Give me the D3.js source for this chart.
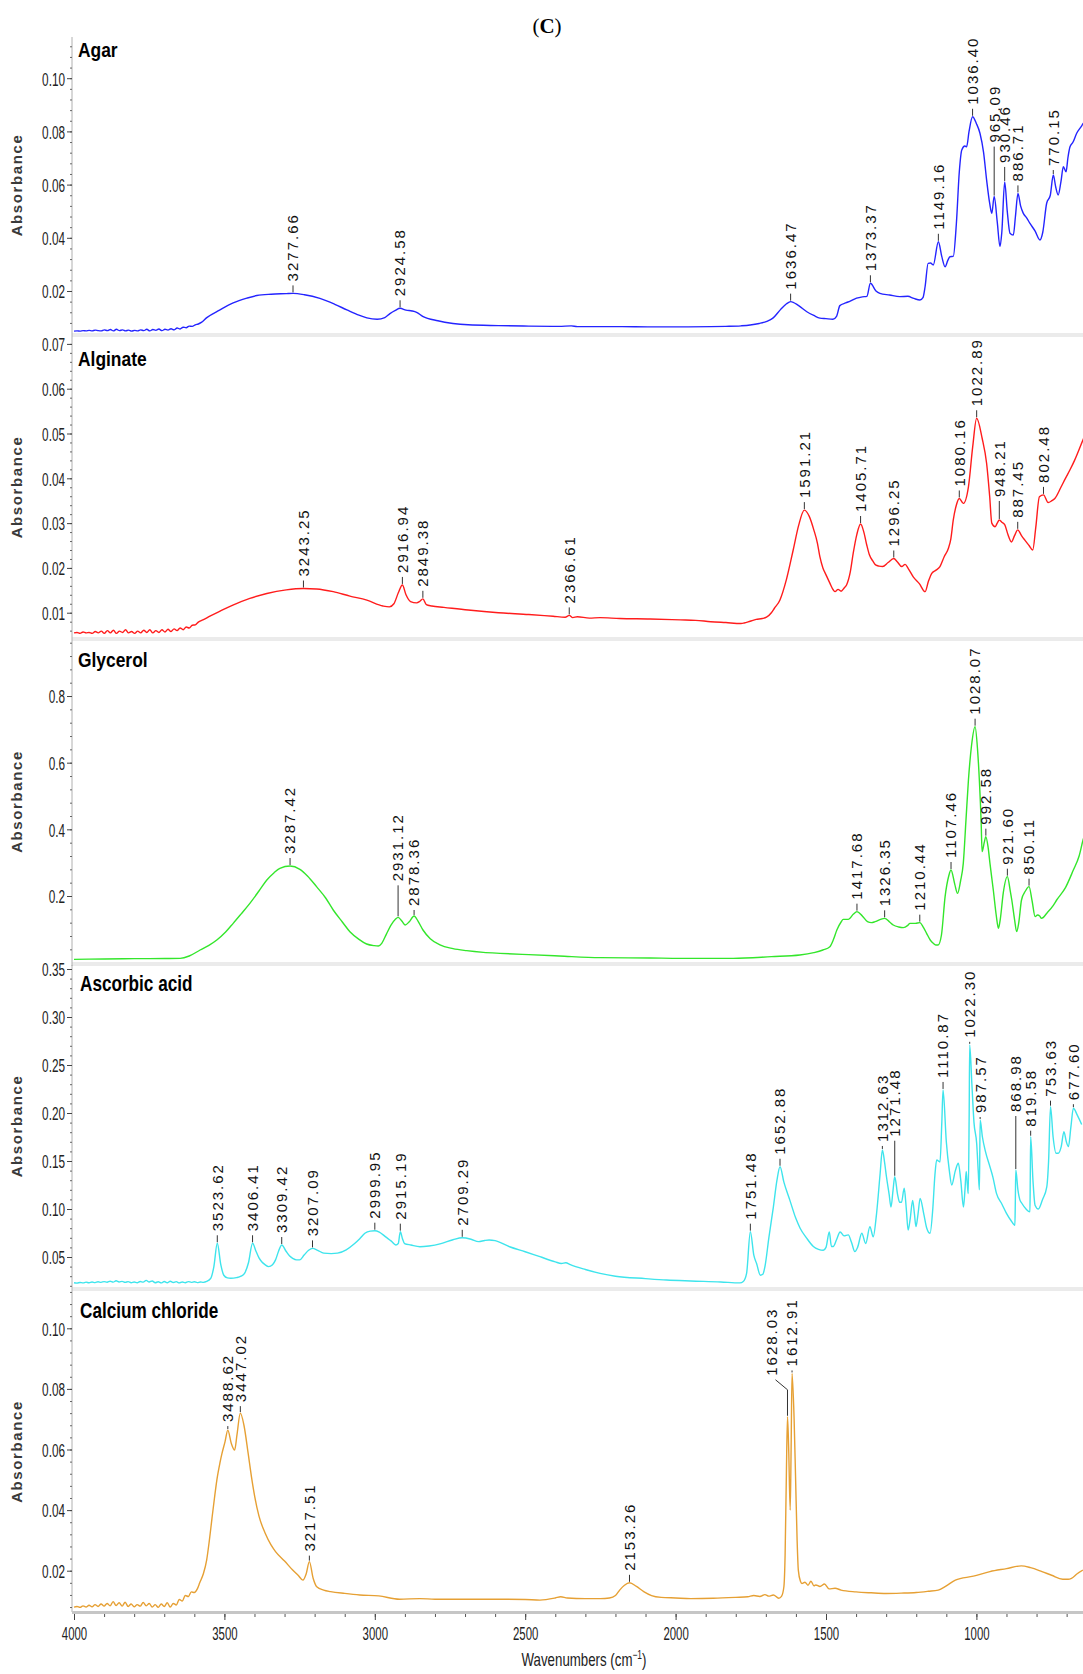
<!DOCTYPE html>
<html>
<head>
<meta charset="utf-8">
<script src="https://cdn.jsdelivr.net/npm/d3@7"></script>
<style>
  body { margin: 0; background: #fff; }
  svg { display: block; }
</style>
</head>
<body>
<svg id="chart" width="1083" height="1674"></svg>
<script>
// ---------- spectra: [wavenumber (cm-1), absorbance] ----------
const agarSpectrum = [
  [4000,.0049],[3990,.0050],[3980,.0049],[3970,.0051],[3960,.0050],[3950,.0052],[3940,.0050],[3930,.0053],
  [3920,.0051],[3910,.0050],[3900,.0054],[3890,.0051],[3880,.0055],[3870,.0050],[3860,.0056],[3850,.0051],
  [3840,.0054],[3830,.0050],[3820,.0053],[3810,.0049],[3800,.0052],[3790,.0050],[3780,.0054],[3770,.0051],
  [3760,.0056],[3750,.0050],[3740,.0055],[3730,.0052],[3720,.0057],[3710,.0051],[3700,.0056],[3690,.0053],
  [3680,.0058],[3670,.0054],[3660,.0061],[3650,.0057],[3640,.0064],[3630,.0062],[3620,.0068],[3610,.0067],
  [3600,.0073],[3590,.0076],[3580,.0082],[3562,.0100],[3520,.0128],[3475,.0155],[3430,.0173],[3397,.0183],
  [3350,.0188],[3300,.0190],[3277.66,.0191],[3240,.0186],[3189,.0172],[3140,.0150],[3100,.0129],[3060,.0109],
  [3034,.0099],[3000,.0094],[2975,.0100],[2958,.0115],[2940,.0127],[2924.58,.0135],[2905,.0128],[2885,.0125],
  [2870,.0120],[2850,.0105],[2800,.0088],[2750,.0078],[2700,.0073],[2600,.0070],[2500,.0068],[2400,.0067],
  [2360,.0069],[2340,.0066],[2300,.0066],[2200,.0066],[2100,.0065],[2000,.0065],[1900,.0066],[1850,.0067],
  [1800,.0069],[1770,.0072],[1740,.0078],[1715,.0086],[1695,.0098],[1670,.0130],[1650,.0152],[1636.47,.0160],
  [1610,.0145],[1583,.0122],[1560,.0108],[1540,.0098],[1520,.0096],[1497,.0094],[1485,.0105],[1474,.0145],
  [1455,.0155],[1440,.0162],[1419,.0173],[1400,.0178],[1385,.0180],[1373.37,.0229],[1355,.0200],[1342,.0191],
  [1310,.0185],[1276,.0179],[1250,.0180],[1230,.0172],[1210,.0166],[1200,.0175],[1193,.0216],[1183,.0304],
  [1175,.0305],[1166,.0298],[1149.16,.0385],[1138,.0330],[1127,.0291],[1118,.0315],[1111,.0329],[1100,.0330],
  [1090,.0450],[1080,.0650],[1072,.0730],[1062,.0745],[1056,.0742],[1048,.0800],[1036.40,.0855],[1024,.0830],
  [1012,.0793],[1000,.0720],[990,.0617],[980,.0530],[973,.0492],[965.09,.0555],[955,.0460],[946,.0367],
  [940,.0420],[930.46,.0610],[922,.0500],[913,.0417],[902,.0410],[895,.0480],[886.71,.0567],[878,.0520],
  [869,.0492],[858,.0475],[847,.0454],[830,.0425],[814,.0392],[805,.0420],[792,.0530],[780,.0560],
  [770.15,.0636],[762,.0590],[754,.0561],[745,.0610],[737,.0667],[728,.0648],[722,.0700],[715,.0742],
  [705,.0760],[693,.0793],[680,.0815],[665,.0840],[650,.0860]
];
const alginateSpectrum = [
  [4000,.0055],[3990,.0056],[3980,.0054],[3970,.0057],[3960,.0055],[3950,.0056],[3940,.0054],[3930,.0058],
  [3920,.0055],[3910,.0059],[3900,.0054],[3890,.0060],[3880,.0055],[3870,.0061],[3860,.0054],[3850,.0059],
  [3840,.0056],[3830,.0062],[3820,.0055],[3810,.0058],[3800,.0054],[3790,.0059],[3780,.0055],[3770,.0061],
  [3760,.0056],[3750,.0062],[3740,.0055],[3730,.0060],[3720,.0056],[3710,.0062],[3700,.0057],[3690,.0063],
  [3680,.0058],[3670,.0064],[3660,.0060],[3650,.0066],[3640,.0062],[3630,.0068],[3620,.0066],[3610,.0072],
  [3600,.0073],[3590,.0079],[3575,.0084],[3550,.0093],[3520,.0103],[3476,.0117],[3420,.0132],[3364,.0143],
  [3300,.0151],[3243.25,.0154],[3200,.0153],[3145,.0147],[3090,.0137],[3034,.0128],[2981,.0115],[2960,.0113],
  [2945,.0120],[2930,.0145],[2916.94,.0162],[2905,.0140],[2890,.0125],[2870,.0122],[2860,.0125],[2849.38,.0131],
  [2838,.0118],[2820,.0115],[2780,.0112],[2700,.0106],[2600,.0100],[2500,.0096],[2420,.0092],[2380,.0090],
  [2366.61,.0094],[2355,.0089],[2340,.0091],[2300,.0088],[2265,.0089],[2200,.0087],[2100,.0086],[2000,.0084],
  [1950,.0083],[1900,.0080],[1850,.0078],[1800,.0076],[1790,.0077],[1770,.0081],[1750,.0085],[1730,.0087],
  [1716,.0090],[1700,.0100],[1690,.0110],[1672,.0128],[1650,.0175],[1628,.0240],[1610,.0295],[1591.21,.0329],
  [1575,.0315],[1560,.0285],[1548,.0255],[1540,.0225],[1530,.0200],[1520,.0185],[1507,.0166],[1495,.0150],
  [1490,.0147],[1480,.0152],[1470,.0148],[1460,.0155],[1452,.0162],[1440,.0190],[1430,.0233],[1418,.0275],
  [1405.71,.0298],[1395,.0280],[1385,.0250],[1377,.0230],[1365,.0215],[1355,.0206],[1345,.0204],[1333,.0203],
  [1315,.0212],[1296.25,.0221],[1285,.0214],[1270,.0203],[1259,.0208],[1248,.0198],[1232,.0180],[1212,.0165],
  [1193,.0147],[1182,.0170],[1171,.0188],[1157,.0195],[1144,.0203],[1130,.0225],[1116,.0244],[1108,.0265],
  [1100,.0307],[1090,.0340],[1080.16,.0355],[1067,.0344],[1050,.0381],[1036,.0470],[1022.89,.0534],[1005,.0490],
  [990,.0433],[980,.0360],[973,.0300],[962,.0292],[955,.0300],[948.21,.0307],[940,.0302],[930,.0296],
  [920,.0275],[908,.0258],[898,.0272],[887.45,.0285],[875,.0272],[864,.0262],[850,.0250],[838,.0240],
  [828,.0290],[816,.0359],[802.48,.0363],[787,.0346],[775,.0350],[765,.0355],[745,.0380],[730,.0400],
  [715,.0419],[700,.0440],[672,.0486],[650,.0520]
];
const glycerolSpectrum = [
  [4000,.010],[3900,.011],[3800,.012],[3700,.0125],[3650,.013],[3620,.020],[3584,.038],[3555,.052],
  [3529,.068],[3500,.092],[3475,.118],[3450,.145],[3420,.178],[3390,.215],[3364,.248],[3340,.270],
  [3321,.283],[3287.42,.290],[3255,.280],[3230,.260],[3200,.228],[3170,.194],[3145,.158],[3115,.122],
  [3090,.093],[3060,.070],[3035,.056],[3010,.051],[2996,.050],[2985,.058],[2970,.085],[2955,.112],
  [2940,.130],[2931.12,.136],[2918,.124],[2908,.113],[2895,.122],[2878.36,.140],[2865,.124],[2849,.098],
  [2825,.072],[2793,.053],[2750,.042],[2705,.036],[2650,.031],[2595,.028],[2500,.024],[2400,.020],
  [2265,.015],[2100,.014],[2000,.013],[1826,.013],[1700,.018],[1606,.023],[1560,.030],[1530,.038],
  [1507,.048],[1495,.070],[1484,.098],[1470,.122],[1463,.130],[1446,.130],[1430,.145],[1417.68,.153],
  [1400,.140],[1383,.123],[1370,.120],[1358,.123],[1340,.130],[1326.35,.133],[1310,.122],[1298,.113],
  [1280,.107],[1265,.105],[1250,.112],[1243,.118],[1225,.118],[1210.44,.120],[1198,.105],[1188,.088],
  [1176,.068],[1166,.058],[1158,.053],[1150,.053],[1139,.083],[1127,.198],[1115,.260],[1107.46,.278],
  [1095,.235],[1086,.208],[1076,.245],[1067,.298],[1058,.430],[1050,.548],[1040,.650],[1028.07,.708],
  [1020,.640],[1014,.548],[1008,.420],[1005,.333],[998,.360],[992.58,.378],[985,.345],[979,.298],
  [968,.218],[958,.140],[951,.103],[945,.130],[935,.210],[921.60,.258],[912,.215],[907,.188],
  [898,.130],[891,.093],[884,.120],[875,.188],[862,.215],[850.11,.228],[840,.185],[830,.138],
  [822,.143],[815,.140],[809,.133],[790,.150],[770,.172],[759,.188],[730,.225],[704,.278],
  [685,.320],[672,.368],[650,.420]
];
const ascorbicSpectrum = [
  [4000,.0232],[3990,.0228],[3980,.0235],[3970,.0230],[3960,.0238],[3950,.0231],[3940,.0240],[3930,.0233],
  [3920,.0242],[3910,.0236],[3900,.0244],[3890,.0237],[3880,.0248],[3870,.0238],[3860,.0252],[3850,.0240],
  [3840,.0246],[3830,.0236],[3820,.0243],[3810,.0232],[3800,.0240],[3790,.0231],[3780,.0245],[3770,.0238],
  [3760,.0256],[3750,.0240],[3740,.0250],[3730,.0232],[3720,.0242],[3710,.0230],[3700,.0245],[3690,.0232],
  [3680,.0248],[3670,.0234],[3660,.0243],[3650,.0230],[3640,.0240],[3630,.0232],[3620,.0244],[3610,.0236],
  [3600,.0242],[3590,.0233],[3580,.0240],[3570,.0236],[3559,.0245],[3545,.0280],[3535,.0400],[3523.62,.0643],
  [3512,.0420],[3502,.0310],[3490,.0282],[3479,.0278],[3460,.0285],[3445,.0300],[3433,.0330],[3420,.0440],
  [3406.41,.0643],[3395,.0560],[3385,.0490],[3376,.0450],[3365,.0420],[3353,.0400],[3340,.0420],[3330,.0470],
  [3320,.0560],[3309.42,.0625],[3295,.0560],[3283,.0510],[3273,.0486],[3260,.0470],[3250,.0470],[3235,.0520],
  [3220,.0570],[3207.09,.0590],[3190,.0570],[3170,.0540],[3145,.0535],[3124,.0540],[3095,.0575],[3067,.0640],
  [3050,.0690],[3033,.0747],[3015,.0770],[2999.95,.0774],[2985,.0760],[2964,.0710],[2945,.0665],[2930,.0625],
  [2922,.0640],[2915.19,.0764],[2908,.0690],[2901,.0640],[2880,.0625],[2850,.0607],[2820,.0615],[2780,.0640],
  [2740,.0680],[2709.29,.0700],[2680,.0685],[2655,.0660],[2635,.0672],[2620,.0677],[2600,.0670],[2552,.0607],
  [2500,.0555],[2451,.0503],[2400,.0450],[2380,.0432],[2365,.0440],[2350,.0420],[2300,.0370],[2251,.0330],
  [2200,.0300],[2100,.0275],[2030,.0260],[1950,.0250],[1850,.0240],[1786,.0230],[1775,.0245],[1764,.0330],
  [1751.48,.0764],[1740,.0520],[1731,.0434],[1718,.0310],[1710,.0320],[1703,.0400],[1690,.0700],[1675,.1020],
  [1663,.1300],[1652.88,.1440],[1640,.1280],[1620,.1090],[1600,.0900],[1586,.0800],[1565,.0700],[1542,.0610],
  [1525,.0580],[1509,.0570],[1500,.0600],[1489,.0760],[1482,.0610],[1476,.0610],[1465,.0680],[1453,.0760],
  [1440,.0720],[1426,.0730],[1415,.0650],[1404,.0556],[1395,.0600],[1381,.0747],[1368,.0640],[1354,.0816],
  [1343,.0710],[1332,.0950],[1320,.1370],[1312.63,.1615],[1305,.1480],[1299,.1336],[1290,.1150],[1284,.1020],
  [1277,.1200],[1271.48,.1336],[1262,.1150],[1255,.1070],[1249,.1070],[1240,.1216],[1233,.1000],[1227,.0780],
  [1220,.0900],[1212,.1090],[1206,.0950],[1201,.0816],[1194,.0950],[1187,.1110],[1175,.0950],[1165,.0800],
  [1154,.0747],[1145,.1000],[1138,.1350],[1132,.1510],[1121,.1490],[1115,.1900],[1110.87,.2240],[1100,.1700],
  [1090,.1400],[1082,.1250],[1070,.1400],[1060,.1476],[1052,.1300],[1043,.1020],[1038,.1200],[1034,.1390],
  [1030,.1250],[1027,.1160],[1024,.2000],[1022.30,.2710],[1015,.2300],[1008,.1900],[999,.1680],[994,.1400],
  [990,.1200],[987.57,.1927],[980,.1750],[970,.1600],[955,.1440],[945,.1330],[933,.1160],[915,.1050],
  [900,.0955],[885,.0880],[872,.0830],[870.5,.1100],[868.98,.1406],[862,.1200],[856,.1100],[849,.1060],
  [835,.1000],[822,.0970],[821,.1300],[819.58,.1753],[812,.1300],[805,.1040],[794,.1000],[780,.1100],
  [766,.1230],[760,.1500],[753.63,.2066],[745,.1750],[735,.1580],[728,.1580],[718,.1650],[709,.1805],
  [701,.1700],[694,.1650],[686,.1850],[677.60,.2050],[665,.1980],[650,.1880]
];
const calciumSpectrum = [
  [4000,.0080],[3990,.0082],[3980,.0079],[3970,.0084],[3960,.0080],[3950,.0086],[3940,.0081],[3930,.0088],
  [3920,.0082],[3910,.0090],[3900,.0083],[3890,.0092],[3880,.0084],[3870,.0098],[3860,.0085],[3850,.0094],
  [3840,.0083],[3830,.0096],[3820,.0082],[3810,.0090],[3800,.0081],[3790,.0088],[3780,.0083],[3770,.0095],
  [3760,.0084],[3750,.0092],[3740,.0080],[3730,.0088],[3720,.0079],[3710,.0090],[3700,.0082],[3690,.0094],
  [3680,.0080],[3670,.0092],[3660,.0087],[3650,.0105],[3640,.0100],[3630,.0118],[3620,.0115],[3610,.0130],
  [3600,.0128],[3590,.0140],[3582,.0160],[3570,.0190],[3559,.0235],[3550,.0300],[3542,.0367],[3533,.0440],
  [3525,.0500],[3515,.0555],[3508,.0587],[3498,.0625],[3488.62,.0664],[3477,.0620],[3466,.0598],[3458,.0650],
  [3447.02,.0720],[3435,.0680],[3421,.0587],[3410,.0510],[3399,.0444],[3385,.0380],[3364,.0323],[3345,.0285],
  [3330,.0263],[3300,.0232],[3273,.0202],[3255,.0185],[3239,.0169],[3228,.0190],[3217.51,.0230],[3205,.0175],
  [3193,.0147],[3170,.0136],[3147,.0131],[3100,.0125],[3050,.0120],[2987,.0117],[2918,.0106],[2850,.0108],
  [2800,.0106],[2700,.0106],[2600,.0106],[2500,.0105],[2451,.0103],[2400,.0110],[2382,.0114],[2360,.0110],
  [2300,.0108],[2250,.0108],[2220,.0110],[2200,.0118],[2186,.0136],[2170,.0152],[2153.26,.0160],[2130,.0148],
  [2106,.0131],[2080,.0118],[2048,.0112],[2000,.0110],[1950,.0108],[1875,.0109],[1800,.0112],[1760,.0114],
  [1740,.0118],[1720,.0115],[1703,.0121],[1690,.0116],[1675,.0120],[1657,.0109],[1648,.0115],[1640,.0147],
  [1636,.0250],[1632,.0500],[1628.03,.0708],[1624,.0600],[1619,.0400],[1616,.0600],[1612.91,.0851],[1606,.0700],
  [1601,.0500],[1596,.0300],[1592,.0202],[1585,.0165],[1580,.0158],[1570,.0162],[1560,.0152],[1550,.0165],
  [1540,.0150],[1534,.0153],[1520,.0148],[1505,.0156],[1490,.0140],[1470,.0142],[1450,.0136],[1400,.0130],
  [1350,.0127],[1300,.0125],[1250,.0126],[1200,.0128],[1160,.0132],[1127,.0136],[1100,.0150],[1070,.0169],
  [1010,.0182],[955,.0197],[900,.0207],[851,.0216],[820,.0210],[782,.0197],[750,.0185],[713,.0172],
  [695,.0172],[684,.0175],[665,.0190],[646,.0202]
];

// ---------- labelled peaks (wavenumbers) ----------
const agarPeaks = ["3277.66","2924.58","1636.47","1373.37","1149.16","1036.40","965.09","930.46","886.71","770.15"];
const alginatePeaks = ["3243.25","2916.94","2849.38","2366.61","1591.21","1405.71","1296.25","1080.16","1022.89","948.21","887.45","802.48"];
const glycerolPeaks = ["3287.42","2931.12","2878.36","1417.68","1326.35","1210.44","1107.46","1028.07","992.58","921.60","850.11"];
const ascorbicPeaks = ["3523.62","3406.41","3309.42","3207.09","2999.95","2915.19","2709.29","1751.48","1652.88","1312.63","1271.48","1110.87","1022.30","987.57","868.98","819.58","753.63","677.60"];
const calciumPeaks = ["3488.62","3447.02","3217.51","2153.26","1628.03","1612.91"];

// ---------- axis labels ----------
const panelNames = ["Agar", "Alginate", "Glycerol", "Ascorbic acid", "Calcium chloride"];
const agarTicks = [0.02, 0.04, 0.06, 0.08, 0.10];
const alginateTicks = [0.01, 0.02, 0.03, 0.04, 0.05, 0.06, 0.07];
const glycerolTicks = [0.2, 0.4, 0.6, 0.8];
const ascorbicTicks = [0.05, 0.10, 0.15, 0.20, 0.25, 0.30, 0.35];
const calciumTicks = [0.02, 0.04, 0.06, 0.08, 0.10];
const wavenumberTicks = [4000, 3500, 3000, 2500, 2000, 1500, 1000];

// ---------- layout ----------
const W = 1083;
const axisX = 72;
const panelLayout = [
  { top: 37,   bottom: 333,  yMin: 0.00421, yMax: 0.11549, minorStep: 0.004, fmt: ".2f", wide: true,  titleY: 57,   titleSize: 20, titleScale: 0.87 },
  { top: 337,  bottom: 637,  yMin: 0.00458, yMax: 0.07154, minorStep: 0.002, fmt: ".2f", wide: true,  titleY: 366,  titleSize: 20, titleScale: 0.87 },
  { top: 641,  bottom: 962,  yMin: 0.00198, yMax: 0.9651,  minorStep: 0.04,  fmt: ".1f", wide: true,  titleY: 667,  titleSize: 20, titleScale: 0.87 },
  { top: 965,  bottom: 1287, yMin: 0.01875, yMax: 0.35417, minorStep: 0.01,  fmt: ".2f", wide: false, titleY: 991,  titleSize: 22, titleScale: 0.78 },
  { top: 1291, bottom: 1612, yMin: 0.00637, yMax: 0.11231, minorStep: 0.004, fmt: ".2f", wide: false, titleY: 1318, titleSize: 22, titleScale: 0.78 }
];
const colors = ["#2424ff", "#ff1c1c", "#33e62b", "#3ee4ec", "#e6a034"];
// leader lift above the peak (px); optional horizontal shift of the label
const leaderLift = {
  "965.09": [50], "930.46": [15], "770.15": [5],
  "948.21": [19],
  "2931.12": [32], "2878.36": [6],
  "1312.63": [4], "1271.48": [36], "1022.30": [3], "987.57": [3], "868.98": [54], "819.58": [6], "753.63": [6], "677.60": [4],
  "3488.62": [4], "3447.02": [7], "3217.51": [6], "1628.03": [37, -16], "1612.91": [3]
};

const spectra = [agarSpectrum, alginateSpectrum, glycerolSpectrum, ascorbicSpectrum, calciumSpectrum];
const peaks = [agarPeaks, alginatePeaks, glycerolPeaks, ascorbicPeaks, calciumPeaks];
const yTicks = [agarTicks, alginateTicks, glycerolTicks, ascorbicTicks, calciumTicks];

const xWide = d3.scaleLinear().domain([4000, 650]).range([74, 74 + 3350 * 0.3032]);
const xStd  = d3.scaleLinear().domain([4000, 650]).range([74, 74 + 3350 * 0.3008]);

const svg = d3.select("#chart");
const defs = svg.append("defs");

// figure heading "(C)"
const head = svg.append("text")
  .attr("x", 547).attr("y", 33)
  .attr("text-anchor", "middle")
  .style("font-family", "'Liberation Serif', 'DejaVu Serif', serif")
  .style("font-size", "21px").attr("fill", "#000");
head.append("tspan").text("(");
head.append("tspan").style("font-weight", "bold").text("C");
head.append("tspan").text(")");

const SANS = "'Liberation Sans', Arial, Helvetica, sans-serif";

panelLayout.forEach((L, i) => {
  const x = L.wide ? xWide : xStd;
  const y = d3.scaleLinear().domain([L.yMin, L.yMax]).range([L.bottom, L.top]);
  const g = svg.append("g");

  // separator band under the panel
  if (i < 4) {
    g.append("rect").attr("x", axisX).attr("y", L.bottom).attr("width", W - axisX).attr("height", 4)
      .attr("fill", "#ebebeb");
  }

  // clip for the trace
  defs.append("clipPath").attr("id", "clip" + i)
    .append("rect").attr("x", axisX + 1).attr("y", L.top).attr("width", W - axisX).attr("height", L.bottom - L.top);

  // y axis: line, minor ticks, major ticks
  g.append("line").attr("x1", axisX).attr("x2", axisX).attr("y1", L.top).attr("y2", L.bottom + (i < 4 ? 4 : 0))
    .attr("stroke", "#b0b0b0").attr("stroke-width", 1);

  const minor = d3.range(Math.ceil(L.yMin / L.minorStep) * L.minorStep, L.yMax, L.minorStep);
  const minorAxis = d3.axisLeft(y).tickValues(minor).tickSize(2).tickFormat("");
  const gMinor = g.append("g").attr("transform", `translate(${axisX},0)`).call(minorAxis);
  gMinor.select(".domain").remove();
  gMinor.selectAll("line").attr("stroke", "#666");

  const majorAxis = d3.axisLeft(y).tickValues(yTicks[i]).tickSize(5).tickPadding(2).tickFormat(d3.format(L.fmt));
  const gMajor = g.append("g").attr("transform", `translate(${axisX},0)`).call(majorAxis);
  gMajor.select(".domain").remove();
  gMajor.selectAll("line").attr("stroke", "#444");
  const sx = 0.62;
  gMajor.selectAll("text")
    .attr("x", -7 / sx).attr("dy", "0.36em")
    .attr("transform", `scale(${sx},1)`)
    .style("font-family", SANS).style("font-size", "19px").attr("fill", "#222");

  // y axis title
  g.append("text")
    .attr("transform", `translate(17,${(L.top + L.bottom) / 2}) rotate(-90)`)
    .attr("text-anchor", "middle").attr("dy", "0.36em")
    .style("font-family", SANS).style("font-size", "15px").style("font-weight", "bold")
    .style("letter-spacing", "1.6px").attr("fill", "#3a3a3a")
    .text("Absorbance");

  // trace
  const line = d3.line().x(d => x(d[0])).y(d => y(d[1])).curve(d3.curveMonotoneX);
  g.append("path").datum(spectra[i])
    .attr("clip-path", `url(#clip${i})`)
    .attr("d", line).attr("fill", "none")
    .attr("stroke", colors[i]).attr("stroke-width", 1.4).attr("stroke-linejoin", "round");

  // panel title
  g.append("text")
    .attr("transform", `translate(${i < 3 ? 78 : 80},${L.titleY}) scale(${L.titleScale},1)`)
    .style("font-family", SANS).style("font-size", L.titleSize + "px").style("font-weight", "bold")
    .attr("fill", "#000").text(panelNames[i]);

  // peak labels with leaders
  peaks[i].forEach(lbl => {
    const wn = +lbl;
    const pt = spectra[i].find(d => d[0] === wn);
    const px = x(pt[0]), py = y(pt[1]);
    const spec = leaderLift[lbl] || [8];
    const lift = spec[0], shift = spec[1] || 0;
    const d = shift
      ? `M${px},${py - 1}V${py - lift + 10}L${px + shift * 0.75},${py - lift}`
      : `M${px},${py - 1}V${py - lift}`;
    g.append("path").attr("d", d).attr("fill", "none").attr("stroke", "#333").attr("stroke-width", 1);
    g.append("text")
      .attr("transform", `translate(${px + shift},${py - lift - 4}) rotate(-90)`)
      .attr("dy", "0.36em")
      .style("font-family", SANS).style("font-size", "15px").style("letter-spacing", "2px")
      .attr("fill", "#111").text(lbl);
  });
});

// bottom wavenumber axis
const axisY = 1612;
svg.append("rect").attr("x", axisX).attr("y", axisY - 1).attr("width", W - axisX).attr("height", 3).attr("fill", "#c6c6c6");
const minorX = d3.range(4000, 649, -100);
const gxMinor = svg.append("g").attr("transform", `translate(0,${axisY + 2})`)
  .call(d3.axisBottom(xStd).tickValues(minorX).tickSize(3).tickFormat(""));
gxMinor.select(".domain").remove();
gxMinor.selectAll("line").attr("stroke", "#555");
const gxMajor = svg.append("g").attr("transform", `translate(0,${axisY + 2})`)
  .call(d3.axisBottom(xStd).tickValues(wavenumberTicks).tickSize(6).tickFormat(d3.format("d")));
gxMajor.select(".domain").remove();
gxMajor.selectAll("line").attr("stroke", "#444");
const xsx = 0.6;
gxMajor.selectAll("text")
  .attr("x", 0).attr("y", 26).attr("dy", 0)
  .attr("transform", `scale(${xsx},1)`)
  .style("font-family", SANS).style("font-size", "19px").attr("fill", "#222");

// x axis title
const xt = svg.append("text")
  .attr("transform", `translate(584,1666) scale(0.7,1)`)
  .attr("text-anchor", "middle")
  .style("font-family", SANS).style("font-size", "19px").attr("fill", "#222");
xt.append("tspan").text("Wavenumbers (cm");
xt.append("tspan").attr("dy", "-7").style("font-size", "12px").text("\u22121");
xt.append("tspan").attr("dy", "7").text(")");
</script>
</body>
</html>
